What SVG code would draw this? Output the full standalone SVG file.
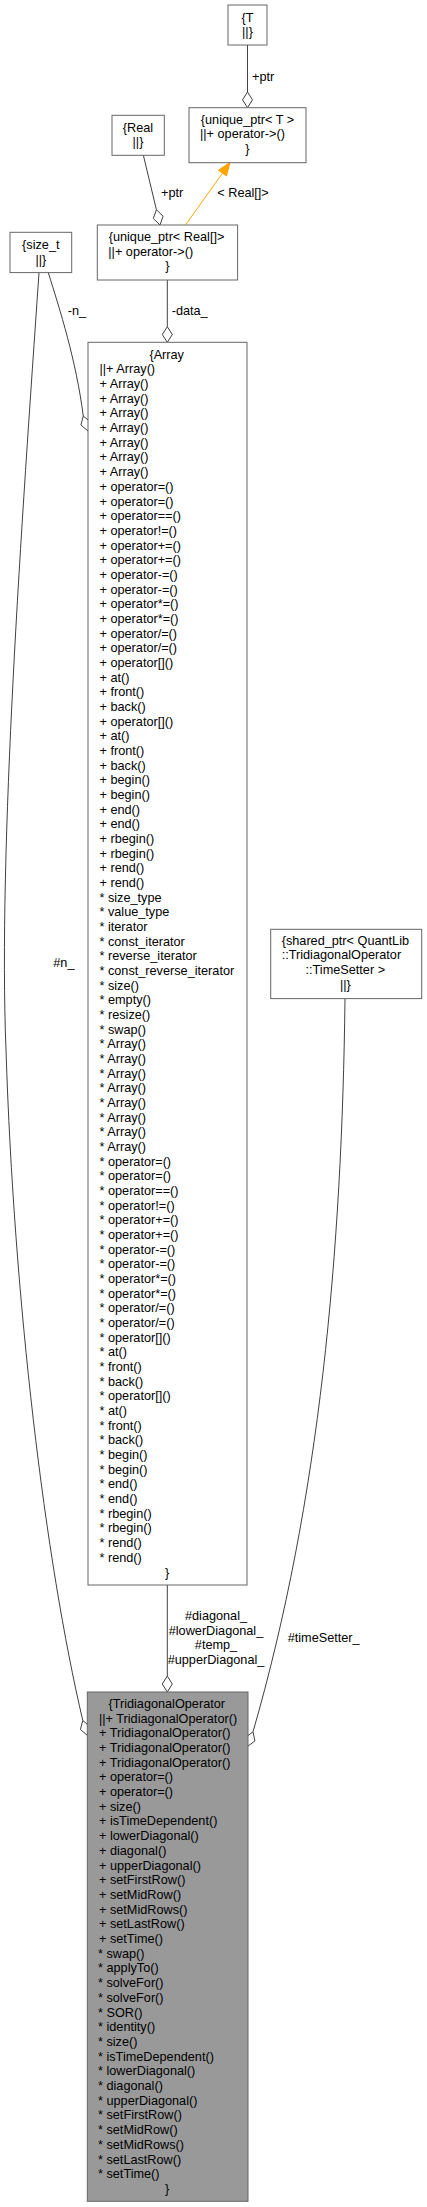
<svg xmlns="http://www.w3.org/2000/svg" width="427" height="2207" viewBox="0 0 427 2207">
<style>
text{font-family:"Liberation Sans",Arial,sans-serif;font-size:12.7px;fill:#000}
.box{fill:#fff;stroke:#666;stroke-width:1}
.main{fill:#999;stroke:#666;stroke-width:1}
.c{text-anchor:middle}
.edge{fill:none;stroke:#404040;stroke-width:1}
.dia{fill:#fff;stroke:#404040;stroke-width:1}
.inh{fill:none;stroke:#ffa500;stroke-width:1}
.inhh{fill:#ffa500;stroke:#ffa500;stroke-width:1}
</style>
<rect width="427" height="2207" fill="#fff"/>
<g id="connectors">
  <line class="edge" x1="247.5" y1="45" x2="247.5" y2="92"/>
  <polygon class="dia" points="247.5,92 252.5,99.8 247.5,107.7 242.5,99.8"/>
  <text x="252" y="80.5">+ptr</text>
  <line class="edge" x1="143.3" y1="155" x2="156.4" y2="209.7"/>
  <polygon class="dia" points="156.4,209.7 163.1,216.2 160,225 153.3,218.5"/>
  <text x="161" y="197">+ptr</text>
  <line class="inh" x1="185.7" y1="224.7" x2="222.5" y2="173.1"/>
  <polygon class="inhh" points="230,162.5 226.5,176 218.4,170.2"/>
  <text x="217.3" y="197">&lt; Real[]&gt;</text>
  <line class="edge" x1="167.3" y1="280" x2="167.3" y2="326.7"/>
  <polygon class="dia" points="167.3,326.7 172.3,334.5 167.3,342.3 162.3,334.5"/>
  <text x="171.7" y="315">-data_</text>
  <path class="edge" d="M48.3,272.7 C60,310 76,360 83.3,416"/>
  <polygon class="dia" points="83.3,416 90.4,422 88,431 80.9,425"/>
  <text x="67.7" y="315">-n_</text>
  <path class="edge" d="M39,272.7 C22,520 -2,850 6,1050 C14,1300 45,1560 82.8,1720.5"/>
  <polygon class="dia" points="82.8,1720.5 89.9,1726.5 87.5,1735.5 80.4,1729.5"/>
  <text x="53.3" y="966.5">#n_</text>
  <path class="edge" d="M345,998.7 C342,1250 320,1500 253,1731.8"/>
  <polygon class="dia" points="253,1731.8 254.9,1740.9 247.5,1746.5 245.6,1737.4"/>
  <text x="287.7" y="1642">#timeSetter_</text>
  <line class="edge" x1="167.3" y1="1585" x2="167.3" y2="1676"/>
  <polygon class="dia" points="167.3,1676 172.3,1684 167.3,1692 162.3,1684"/>
  <text class="c" x="216" y="1620">#diagonal_</text>
  <text class="c" x="216" y="1635">#lowerDiagonal_</text>
  <text class="c" x="216" y="1649.3">#temp_</text>
  <text class="c" x="216" y="1663.7">#upperDiagonal_</text>
</g>
<g id="node_T">
  <rect class="box" x="228" y="5" width="39" height="40"/>
  <text class="c" x="247.5" y="21.5">{T</text>
  <text class="c" x="247.5" y="36.2">||}</text>
</g>
<g id="node_unique_ptr_T">
  <rect class="box" x="189" y="107.7" width="117" height="55"/>
  <text class="c" x="247.5" y="123.5">{unique_ptr&lt; T &gt;</text>
  <text x="200" y="138.2">||+ operator-&gt;()</text>
  <text class="c" x="247.3" y="152.9">}</text>
</g>
<g id="node_Real">
  <rect class="box" x="112" y="115.3" width="52.3" height="40"/>
  <text class="c" x="138" y="131.5">{Real</text>
  <text class="c" x="138" y="146.2">||}</text>
</g>
<g id="node_unique_ptr_Real">
  <rect class="box" x="97.3" y="225" width="140.3" height="55"/>
  <text class="c" x="166.5" y="241">{unique_ptr&lt; Real[]&gt;</text>
  <text x="108.3" y="255.7">||+ operator-&gt;()</text>
  <text class="c" x="167.3" y="270.4">}</text>
</g>
<g id="node_size_t">
  <rect class="box" x="10" y="232.3" width="61.7" height="40.3"/>
  <text class="c" x="40.8" y="249">{size_t</text>
  <text class="c" x="40.8" y="263.7">||}</text>
</g>
<g id="node_shared_ptr">
  <rect class="box" x="270.7" y="929.3" width="151" height="69.3"/>
  <text x="281.7" y="944.5">{shared_ptr&lt; QuantLib</text>
  <text x="281.7" y="959.2">::TridiagonalOperator</text>
  <text class="c" x="345.3" y="973.9">::TimeSetter &gt;</text>
  <text class="c" x="345.3" y="988.6">||}</text>
</g>
<g id="node_Array">
  <rect class="box" x="88" y="342.3" width="159" height="1242.7"/>
  <text class="c" x="166.7" y="358.8">{Array</text>
  <text y="358.8"><tspan x="99.5" dy="14.67">||+ Array()</tspan><tspan x="99.5" dy="14.67">+ Array()</tspan><tspan x="99.5" dy="14.67">+ Array()</tspan><tspan x="99.5" dy="14.67">+ Array()</tspan><tspan x="99.5" dy="14.67">+ Array()</tspan><tspan x="99.5" dy="14.67">+ Array()</tspan><tspan x="99.5" dy="14.67">+ Array()</tspan><tspan x="99.5" dy="14.67">+ Array()</tspan><tspan x="99.5" dy="14.67">+ operator=()</tspan><tspan x="99.5" dy="14.67">+ operator=()</tspan><tspan x="99.5" dy="14.67">+ operator==()</tspan><tspan x="99.5" dy="14.67">+ operator!=()</tspan><tspan x="99.5" dy="14.67">+ operator+=()</tspan><tspan x="99.5" dy="14.67">+ operator+=()</tspan><tspan x="99.5" dy="14.67">+ operator-=()</tspan><tspan x="99.5" dy="14.67">+ operator-=()</tspan><tspan x="99.5" dy="14.67">+ operator*=()</tspan><tspan x="99.5" dy="14.67">+ operator*=()</tspan><tspan x="99.5" dy="14.67">+ operator/=()</tspan><tspan x="99.5" dy="14.67">+ operator/=()</tspan><tspan x="99.5" dy="14.67">+ operator[]()</tspan><tspan x="99.5" dy="14.67">+ at()</tspan><tspan x="99.5" dy="14.67">+ front()</tspan><tspan x="99.5" dy="14.67">+ back()</tspan><tspan x="99.5" dy="14.67">+ operator[]()</tspan><tspan x="99.5" dy="14.67">+ at()</tspan><tspan x="99.5" dy="14.67">+ front()</tspan><tspan x="99.5" dy="14.67">+ back()</tspan><tspan x="99.5" dy="14.67">+ begin()</tspan><tspan x="99.5" dy="14.67">+ begin()</tspan><tspan x="99.5" dy="14.67">+ end()</tspan><tspan x="99.5" dy="14.67">+ end()</tspan><tspan x="99.5" dy="14.67">+ rbegin()</tspan><tspan x="99.5" dy="14.67">+ rbegin()</tspan><tspan x="99.5" dy="14.67">+ rend()</tspan><tspan x="99.5" dy="14.67">+ rend()</tspan><tspan x="99.5" dy="14.67">* size_type</tspan><tspan x="99.5" dy="14.67">* value_type</tspan><tspan x="99.5" dy="14.67">* iterator</tspan><tspan x="99.5" dy="14.67">* const_iterator</tspan><tspan x="99.5" dy="14.67">* reverse_iterator</tspan><tspan x="99.5" dy="14.67">* const_reverse_iterator</tspan><tspan x="99.5" dy="14.67">* size()</tspan><tspan x="99.5" dy="14.67">* empty()</tspan><tspan x="99.5" dy="14.67">* resize()</tspan><tspan x="99.5" dy="14.67">* swap()</tspan><tspan x="99.5" dy="14.67">* Array()</tspan><tspan x="99.5" dy="14.67">* Array()</tspan><tspan x="99.5" dy="14.67">* Array()</tspan><tspan x="99.5" dy="14.67">* Array()</tspan><tspan x="99.5" dy="14.67">* Array()</tspan><tspan x="99.5" dy="14.67">* Array()</tspan><tspan x="99.5" dy="14.67">* Array()</tspan><tspan x="99.5" dy="14.67">* Array()</tspan><tspan x="99.5" dy="14.67">* operator=()</tspan><tspan x="99.5" dy="14.67">* operator=()</tspan><tspan x="99.5" dy="14.67">* operator==()</tspan><tspan x="99.5" dy="14.67">* operator!=()</tspan><tspan x="99.5" dy="14.67">* operator+=()</tspan><tspan x="99.5" dy="14.67">* operator+=()</tspan><tspan x="99.5" dy="14.67">* operator-=()</tspan><tspan x="99.5" dy="14.67">* operator-=()</tspan><tspan x="99.5" dy="14.67">* operator*=()</tspan><tspan x="99.5" dy="14.67">* operator*=()</tspan><tspan x="99.5" dy="14.67">* operator/=()</tspan><tspan x="99.5" dy="14.67">* operator/=()</tspan><tspan x="99.5" dy="14.67">* operator[]()</tspan><tspan x="99.5" dy="14.67">* at()</tspan><tspan x="99.5" dy="14.67">* front()</tspan><tspan x="99.5" dy="14.67">* back()</tspan><tspan x="99.5" dy="14.67">* operator[]()</tspan><tspan x="99.5" dy="14.67">* at()</tspan><tspan x="99.5" dy="14.67">* front()</tspan><tspan x="99.5" dy="14.67">* back()</tspan><tspan x="99.5" dy="14.67">* begin()</tspan><tspan x="99.5" dy="14.67">* begin()</tspan><tspan x="99.5" dy="14.67">* end()</tspan><tspan x="99.5" dy="14.67">* end()</tspan><tspan x="99.5" dy="14.67">* rbegin()</tspan><tspan x="99.5" dy="14.67">* rbegin()</tspan><tspan x="99.5" dy="14.67">* rend()</tspan><tspan x="99.5" dy="14.67">* rend()</tspan></text>
  <text class="c" x="167" y="1576.5">}</text>
</g>
<g id="node_TridiagonalOperator">
  <rect class="main" x="87.3" y="1692" width="160.7" height="509.3"/>
  <text class="c" x="166.7" y="1707.8">{TridiagonalOperator</text>
  <text y="1707.8"><tspan x="99" dy="14.7">||+ TridiagonalOperator()</tspan><tspan x="99" dy="14.7">+ TridiagonalOperator()</tspan><tspan x="99" dy="14.7">+ TridiagonalOperator()</tspan><tspan x="99" dy="14.7">+ TridiagonalOperator()</tspan><tspan x="99" dy="14.7">+ operator=()</tspan><tspan x="99" dy="14.7">+ operator=()</tspan><tspan x="99" dy="14.7">+ size()</tspan><tspan x="99" dy="14.7">+ isTimeDependent()</tspan><tspan x="99" dy="14.7">+ lowerDiagonal()</tspan><tspan x="99" dy="14.7">+ diagonal()</tspan><tspan x="99" dy="14.7">+ upperDiagonal()</tspan><tspan x="99" dy="14.7">+ setFirstRow()</tspan><tspan x="99" dy="14.7">+ setMidRow()</tspan><tspan x="99" dy="14.7">+ setMidRows()</tspan><tspan x="99" dy="14.7">+ setLastRow()</tspan><tspan x="99" dy="14.7">+ setTime()</tspan><tspan x="98" dy="14.7">* swap()</tspan><tspan x="98" dy="14.7">* applyTo()</tspan><tspan x="98" dy="14.7">* solveFor()</tspan><tspan x="98" dy="14.7">* solveFor()</tspan><tspan x="98" dy="14.7">* SOR()</tspan><tspan x="98" dy="14.7">* identity()</tspan><tspan x="98" dy="14.7">* size()</tspan><tspan x="98" dy="14.7">* isTimeDependent()</tspan><tspan x="98" dy="14.7">* lowerDiagonal()</tspan><tspan x="98" dy="14.7">* diagonal()</tspan><tspan x="98" dy="14.7">* upperDiagonal()</tspan><tspan x="98" dy="14.7">* setFirstRow()</tspan><tspan x="98" dy="14.7">* setMidRow()</tspan><tspan x="98" dy="14.7">* setMidRows()</tspan><tspan x="98" dy="14.7">* setLastRow()</tspan><tspan x="98" dy="14.7">* setTime()</tspan></text>
  <text class="c" x="167" y="2192.9">}</text>
</g>
</svg>
